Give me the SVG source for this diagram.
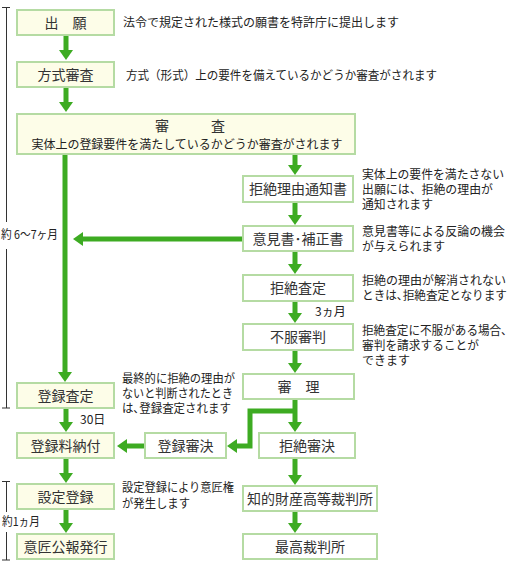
<svg xmlns="http://www.w3.org/2000/svg" width="509" height="565" viewBox="0 0 509 565">
<style>
.bx{stroke:#b5dba3;stroke-width:2}
.y{fill:#fdfde8}
.w{fill:#ffffff}
.lb{font-family:"Noto Sans CJK JP","Noto Sans",sans-serif;font-size:14px;fill:#333;text-anchor:middle}
.ds{font-family:"Noto Sans CJK JP","Noto Sans",sans-serif;font-size:12px;fill:#222}
.ar{stroke:#3dab22;stroke-width:5;fill:none;marker-end:url(#ah)}
.br{stroke:#333;stroke-width:1;fill:none}
</style>
<defs>
<marker id="ah" markerUnits="userSpaceOnUse" markerWidth="10" markerHeight="14" viewBox="0 0 10 14" refX="2" refY="7" orient="auto">
<path d="M0,0 L10,7 L0,14 z" fill="#3dab22"/>
</marker>
</defs>
<rect width="509" height="565" fill="#ffffff"/>

<g id="brackets">
<path class="br" d="M2,7.5 H10 M6.5,7.5 V222 M6.5,249 V408 M2,408 H10"/>
<path class="br" d="M2,481.5 H10 M6.5,481.5 V512 M6.5,532 V560 M2,560 H10"/>
<text class="ds" x="1" y="239" textLength="57" lengthAdjust="spacingAndGlyphs">約 6〜7ヶ月</text>
<text class="ds" x="2" y="526" textLength="38" lengthAdjust="spacingAndGlyphs">約1ヵ月</text>
</g>

<g id="connectors">
<path class="ar" d="M66,36 V52"/>
<path class="ar" d="M66,88 V104"/>
<path class="ar" d="M65,155 V374"/>
<path class="ar" d="M295,155 V167"/>
<path class="ar" d="M295,203 V217"/>
<path class="ar" d="M242,239 H81"/>
<path class="ar" d="M295,252 V266"/>
<path class="ar" d="M295,302 V315"/>
<path class="ar" d="M295,351 V365"/>
<path class="ar" d="M295,399 V424"/>
<path class="ar" d="M295,411 H250 V446 H235"/>
<path class="ar" d="M66,409 V424"/>
<path class="ar" d="M144,446 H125"/>
<path class="ar" d="M66,459 V475"/>
<path class="ar" d="M66,510 V525"/>
<path class="ar" d="M295,459 V477"/>
<path class="ar" d="M295,512 V525"/>
<text class="ds" x="80" y="424">30日</text>
<text class="ds" x="315" y="316">3ヵ月</text>
</g>

<g id="n-shutsugan">
<rect class="bx y" x="17" y="10" width="97" height="25"/>
<text class="lb" x="65.5" y="27.5">出　願</text>
</g>
<text class="ds" x="123" y="27" textLength="276" lengthAdjust="spacingAndGlyphs">法令で規定された様式の願書を特許庁に提出します</text>

<g id="n-houshiki">
<rect class="bx y" x="17" y="62" width="97" height="25"/>
<text class="lb" x="65.5" y="79.5">方式審査</text>
</g>
<text class="ds" x="126" y="79.5" textLength="311" lengthAdjust="spacingAndGlyphs">方式（形式）上の要件を備えているかどうか審査がされます</text>

<g id="n-shinsa">
<rect class="bx y" x="17" y="114" width="338" height="40"/>
<text class="lb" x="190" y="131">審　　　査</text>
<text class="ds" x="187" y="148.5" text-anchor="middle" textLength="311" lengthAdjust="spacingAndGlyphs">実体上の登録要件を満たしているかどうか審査がされます</text>
</g>

<g id="n-kyozetsuriyu">
<rect class="bx w" x="243" y="176" width="110" height="26"/>
<text class="lb" x="298" y="194">拒絶理由通知書</text>
</g>
<text class="ds" x="362" y="178.5" textLength="142" lengthAdjust="spacingAndGlyphs">実体上の要件を満たさない</text>
<text class="ds" x="362" y="193.5" textLength="131" lengthAdjust="spacingAndGlyphs">出願には、拒絶の理由が</text>
<text class="ds" x="362" y="208.5" textLength="71" lengthAdjust="spacingAndGlyphs">通知されます</text>

<g id="n-ikensho">
<rect class="bx w" x="243" y="226" width="110" height="25"/>
<text class="lb" x="298" y="243.5">意見書･補正書</text>
</g>
<text class="ds" x="362" y="236" textLength="143" lengthAdjust="spacingAndGlyphs">意見書等による反論の機会</text>
<text class="ds" x="362" y="251" textLength="83" lengthAdjust="spacingAndGlyphs">が与えられます</text>

<g id="n-kyozetsusatei">
<rect class="bx w" x="243" y="275" width="110" height="26"/>
<text class="lb" x="298" y="293">拒絶査定</text>
</g>
<text class="ds" x="362" y="285" textLength="144" lengthAdjust="spacingAndGlyphs">拒絶の理由が解消されない</text>
<text class="ds" x="362" y="300" textLength="145" lengthAdjust="spacingAndGlyphs">ときは､拒絶査定となります</text>

<g id="n-fufuku">
<rect class="bx w" x="243" y="324" width="110" height="26"/>
<text class="lb" x="298" y="342">不服審判</text>
</g>
<text class="ds" x="362" y="334.5" textLength="145" lengthAdjust="spacingAndGlyphs">拒絶査定に不服がある場合､</text>
<text class="ds" x="362" y="349.5" textLength="117" lengthAdjust="spacingAndGlyphs">審判を請求することが</text>
<text class="ds" x="362" y="364.5" textLength="48" lengthAdjust="spacingAndGlyphs">できます</text>

<g id="n-shinri">
<rect class="bx w" x="243" y="374" width="111" height="25"/>
<text class="lb" x="298.5" y="391.5">審　理</text>
</g>

<g id="n-tourokusatei">
<rect class="bx y" x="17" y="383" width="97" height="25"/>
<text class="lb" x="65.5" y="400.5">登録査定</text>
</g>
<text class="ds" x="122" y="383" textLength="113" lengthAdjust="spacingAndGlyphs">最終的に拒絶の理由が</text>
<text class="ds" x="122" y="398" textLength="111" lengthAdjust="spacingAndGlyphs">ないと判断されたとき</text>
<text class="ds" x="122" y="413" textLength="109" lengthAdjust="spacingAndGlyphs">は､登録査定されます</text>

<g id="n-tourokuryou">
<rect class="bx y" x="17" y="433" width="97" height="25"/>
<text class="lb" x="65.5" y="450.5">登録料納付</text>
</g>

<g id="n-tourokushinketsu">
<rect class="bx w" x="145" y="433" width="81" height="25"/>
<text class="lb" x="185.5" y="450.5">登録審決</text>
</g>

<g id="n-kyozetsushinketsu">
<rect class="bx w" x="259" y="433" width="96" height="25"/>
<text class="lb" x="307" y="450.5">拒絶審決</text>
</g>

<g id="n-setteitouroku">
<rect class="bx y" x="17" y="484" width="97" height="25"/>
<text class="lb" x="65.5" y="501.5">設定登録</text>
</g>
<text class="ds" x="122" y="492" textLength="112" lengthAdjust="spacingAndGlyphs">設定登録により意匠権</text>
<text class="ds" x="122" y="508" textLength="68" lengthAdjust="spacingAndGlyphs">が発生します</text>

<g id="n-ishoukouhou">
<rect class="bx y" x="17" y="534" width="97" height="25"/>
<text class="lb" x="65.5" y="551.5">意匠公報発行</text>
</g>

<g id="n-chizaikousai">
<rect class="bx w" x="243" y="486" width="134" height="25"/>
<text class="lb" x="310" y="503.5">知的財産高等裁判所</text>
</g>

<g id="n-saikousai">
<rect class="bx w" x="243" y="534" width="134" height="25"/>
<text class="lb" x="310" y="551.5">最高裁判所</text>
</g>
</svg>
